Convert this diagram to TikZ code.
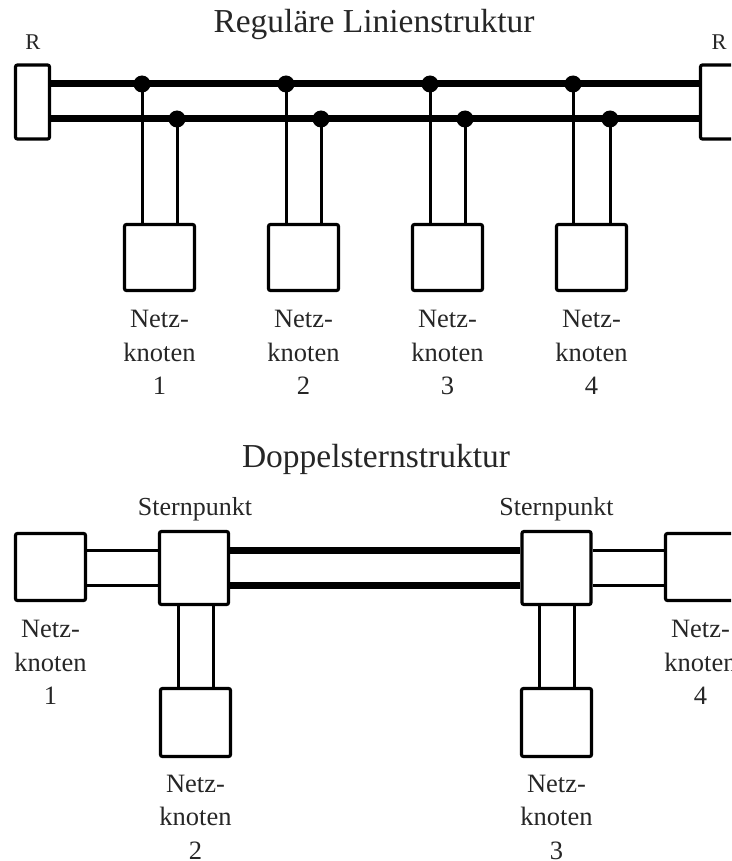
\documentclass[tikz,border=0pt]{standalone}
\usepackage{fontspec}
\setmainfont{Liberation Serif}
\begin{document}
\begin{tikzpicture}[x=1pt,y=-1pt,
  box/.style={draw, line width=3.2pt, rounded corners=2pt, inner sep=0pt, fill=white},
  bus/.style={line width=7pt},
  wire/.style={line width=3pt},
  dotnode/.style={circle, fill, inner sep=0pt, minimum size=17pt},
  lbl/.style={font=\fontsize{26.5}{33.5}\selectfont, align=center, inner sep=0pt, anchor=north, text=black!85},
  ttl/.style={font=\fontsize{33.5}{38}\selectfont, inner sep=0pt, anchor=base, text=black!85},
  smalltxt/.style={font=\fontsize{26}{30}\selectfont, inner sep=0pt, anchor=base, text=black!85}]
\useasboundingbox (0,0) rectangle (731,861);
\clip (0,0) rectangle (731,861);

% ---------- Top: Regulaere Linienstruktur ----------
\node[ttl] (t1) at (374,33) {Reguläre Linienstruktur};

\node[box, minimum width=34pt, minimum height=74pt] (RL) at (32.5,102) {};
\node[box, minimum width=34pt, minimum height=74pt] (RR) at (717.5,102) {};
\node[smalltxt, font=\fontsize{22.5}{26}\selectfont] (rl) at (33,50) {R};
\node[smalltxt, font=\fontsize{22.5}{26}\selectfont] (rr) at (719,50) {R};

\foreach \i/\xa/\xb/\xc in {1/142/177/159.5,2/286/321/303.5,3/430/465/447.5,4/573/610/591.5}{
  \node[dotnode] (da\i) at (\xa,84) {};
  \node[dotnode] (db\i) at (\xb,119) {};
  \node[box, minimum width=70pt, minimum height=66pt] (k\i) at (\xc,257.5) {};
  \node[lbl] (lk\i) at ([yshift=-18pt]k\i.south) {Netz-\\knoten\\\i};
}

\draw[bus] (RL.east |- da1) -- (da1.center) -- (da2.center) -- (da3.center) -- (da4.center) -- (RR.west |- da4);
\draw[bus] (RL.east |- db1) -- (db1.center) -- (db2.center) -- (db3.center) -- (db4.center) -- (RR.west |- db4);

\foreach \i in {1,2,3,4}{
  \draw[wire] (da\i.center) -- (da\i |- k\i.north);
  \draw[wire] (db\i.center) -- (db\i |- k\i.north);
}

% ---------- Bottom: Doppelsternstruktur ----------
\node[ttl] (t2) at (376,467) {Doppelsternstruktur};

\node[box, minimum width=70pt, minimum height=67pt] (n1) at (50.5,567) {};
\node[box, minimum width=69pt, minimum height=73pt] (s1) at (194,568) {};
\node[box, minimum width=69pt, minimum height=73pt] (s2) at (556.5,568) {};
\node[box, minimum width=70pt, minimum height=67pt] (n4) at (700.5,567) {};
\node[box, minimum width=70pt, minimum height=68pt] (n2) at (195.5,722.5) {};
\node[box, minimum width=70pt, minimum height=68pt] (n3) at (556.5,722.5) {};

\node[smalltxt] (sl1) at (195,515) {Sternpunkt};
\node[smalltxt] (sl2) at (556.5,515) {Sternpunkt};

\node[lbl] (ln1) at ([yshift=-18pt]n1.south) {Netz-\\knoten\\1};
\node[lbl] (ln4) at ([yshift=-18pt]n4.south) {Netz-\\knoten\\4};
\node[lbl] (ln2) at ([yshift=-16.5pt]n2.south) {Netz-\\knoten\\2};
\node[lbl] (ln3) at ([yshift=-16.5pt]n3.south) {Netz-\\knoten\\3};

% thin pairs
\draw[wire] ([yshift=16.5pt]n1.east) -- ([yshift=16.5pt]n1.east -| s1.west);
\draw[wire] ([yshift=-18.5pt]n1.east) -- ([yshift=-18.5pt]n1.east -| s1.west);
\draw[wire] ([yshift=16.5pt]n4.west) -- ([yshift=16.5pt]n4.west -| s2.east);
\draw[wire] ([yshift=-18.5pt]n4.west) -- ([yshift=-18.5pt]n4.west -| s2.east);
% thick pair between star points
\draw[bus] ([yshift=16.5pt]n1.east -| s1.east) -- ([yshift=16.5pt]n1.east -| s2.west);
\draw[bus] ([yshift=-18.5pt]n1.east -| s1.east) -- ([yshift=-18.5pt]n1.east -| s2.west);
% verticals
\draw[wire] ([xshift=-17.5pt]n2.north |- s1.south) -- ([xshift=-17.5pt]n2.north);
\draw[wire] ([xshift=17.5pt]n2.north |- s1.south) -- ([xshift=17.5pt]n2.north);
\draw[wire] ([xshift=-17.5pt]n3.north |- s2.south) -- ([xshift=-17.5pt]n3.north);
\draw[wire] ([xshift=17.5pt]n3.north |- s2.south) -- ([xshift=17.5pt]n3.north);
\end{tikzpicture}
\end{document}
